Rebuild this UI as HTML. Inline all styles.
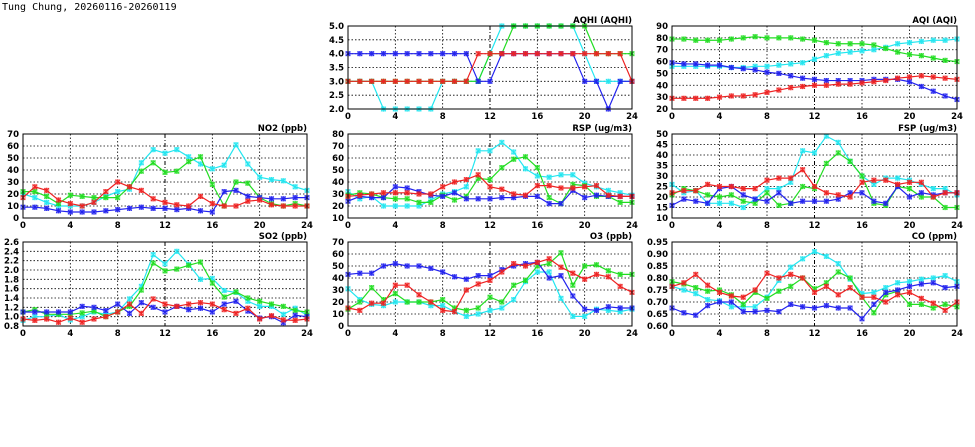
<!DOCTYPE html>
<html><head><meta charset="utf-8">
<style>
html,body{margin:0;padding:0;background:#fff;}
svg{display:block;}
text{font-family:"DejaVu Sans","Liberation Sans",sans-serif;font-weight:bold;font-size:8.5px;fill:#000;}
</style></head>
<body>
<svg id="chart" width="975" height="447" viewBox="0 0 975 447" xmlns="http://www.w3.org/2000/svg">
<text x="2" y="10" style="font-family:'DejaVu Sans Mono','Liberation Mono',monospace;font-size:10px;font-weight:normal">Tung Chung, 20260116-20260119</text>
</svg>
<script>
const hours = [0,1,2,3,4,5,6,7,8,9,10,11,12,13,14,15,16,17,18,19,20,21,22,23,24];
const xTicks = [0,4,8,12,16,20,24];

const aqhiCyan = [3,3,3,2,2,2,2,2,3,3,3,3,4,5,5,5,5,5,5,5,4,3,3,3,3];
const aqhiGreen = [3,3,3,3,3,3,3,3,3,3,3,3,4,4,5,5,5,5,5,5,5,4,4,4,4];
const aqhiBlue = [4,4,4,4,4,4,4,4,4,4,4,3,3,4,4,4,4,4,4,4,3,3,2,3,3];
const aqhiRed = [3,3,3,3,3,3,3,3,3,3,3,4,4,4,4,4,4,4,4,4,4,4,4,4,3];
const aqhiTicks = [2.0,2.5,3.0,3.5,4.0,4.5,5.0];

const aqiCyan = [56,56,56,56,56,55,55,56,56,57,58,59,62,65,67,68,69,70,72,75,76,77,78,78,79];
const aqiGreen = [79,79,78,78,78,79,80,81,80,80,80,79,78,76,75,75,75,74,71,68,66,65,63,61,60];
const aqiBlue = [59,58,58,57,57,55,54,53,51,50,48,46,45,44,44,44,44,45,45,45,43,39,35,31,28];
const aqiRed = [29,29,29,29,30,31,31,32,34,36,38,39,40,40,41,41,42,43,44,46,47,48,47,46,45];
const aqiTicks = [20,30,40,50,60,70,80,90];

const no2Cyan = [20,17,13,10,10,10,13,18,22,24,46,57,54,57,51,45,41,44,61,45,34,32,31,26,23];
const no2Green = [22,22,18,12,19,18,17,17,17,26,39,46,38,39,47,51,28,10,30,29,17,12,10,12,10];
const no2Blue = [9,9,8,6,5,5,5,6,7,8,9,8,8,7,8,6,5,22,23,18,17,16,16,17,17];
const no2Red = [17,26,23,15,12,10,13,22,30,26,23,16,13,11,10,18,12,10,10,14,15,11,10,10,10];
const no2Ticks = [0,10,20,30,40,50,60,70];

const rspCyan = [32,26,28,20,20,20,20,25,30,32,36,66,66,73,65,51,45,44,46,46,39,36,33,31,29];
const rspGreen = [29,31,30,27,26,26,23,23,29,25,28,43,42,52,59,61,52,27,22,38,37,28,28,23,23];
const rspBlue = [24,28,27,27,36,35,32,29,28,31,26,26,26,27,27,28,28,22,22,33,27,29,28,28,28];
const rspRed = [28,29,30,31,31,31,30,30,36,40,42,46,36,34,30,29,37,37,35,35,36,37,29,28,28];
const rspTicks = [10,20,30,40,50,60,70,80];

const fspCyan = [26,22,23,17,17,17,15,19,24,24,27,42,41,49,46,37,30,26,29,29,28,26,24,24,21];
const fspGreen = [21,24,23,21,20,21,18,17,22,16,17,25,24,36,41,37,30,17,16,25,24,20,20,15,15];
const fspBlue = [16,19,18,17,24,25,21,19,18,22,17,18,18,18,19,22,22,18,17,25,20,22,21,22,22];
const fspRed = [22,23,23,26,25,25,24,24,28,29,29,33,25,22,21,20,27,28,28,26,27,27,20,22,22];
const fspTicks = [10,15,20,25,30,35,40,45,50];

const so2Cyan = [0.92,1.0,1.0,1.05,0.93,1.0,1.1,1.05,1.1,1.38,1.65,2.33,2.13,2.4,2.12,1.8,1.82,1.56,1.52,1.33,1.22,1.22,1.05,1.18,1.03];
const so2Green = [1.1,1.15,1.05,1.05,1.05,1.08,1.12,1.0,1.1,1.22,1.57,2.15,1.98,2.02,2.1,2.17,1.72,1.42,1.53,1.4,1.33,1.27,1.22,1.13,1.1];
const so2Blue = [1.1,1.1,1.1,1.1,1.1,1.22,1.2,1.13,1.27,1.07,1.3,1.2,1.1,1.22,1.15,1.18,1.1,1.27,1.33,1.12,0.97,1.0,0.87,1.03,1.0];
const so2Red = [0.95,0.92,0.95,0.88,0.97,0.88,0.95,1.0,1.1,1.27,1.07,1.38,1.27,1.22,1.27,1.3,1.27,1.15,1.07,1.18,0.95,1.02,0.93,0.92,0.95];
const so2Ticks = [0.8,1.0,1.2,1.4,1.6,1.8,2.0,2.2,2.4,2.6];

const o3Cyan = [31,22,18,17,20,20,20,17,17,12,8,10,13,15,22,37,45,45,23,8,8,14,13,12,14];
const o3Green = [14,20,32,22,27,20,20,20,22,15,13,15,24,20,34,38,50,52,61,34,50,51,46,43,43];
const o3Blue = [43,44,44,50,52,50,50,48,45,41,39,42,42,47,50,52,53,40,42,25,14,13,16,15,15];
const o3Red = [15,13,19,19,34,34,26,20,13,12,30,35,38,45,52,50,53,56,49,44,39,43,41,33,28];
const o3Ticks = [0,10,20,30,40,50,60,70];

const coCyan = [0.765,0.75,0.735,0.71,0.705,0.68,0.68,0.68,0.72,0.79,0.845,0.88,0.91,0.89,0.86,0.795,0.735,0.74,0.76,0.78,0.785,0.795,0.8,0.81,0.785];
const coGreen = [0.785,0.775,0.76,0.745,0.75,0.73,0.69,0.74,0.715,0.745,0.765,0.8,0.755,0.78,0.825,0.8,0.72,0.655,0.73,0.745,0.69,0.69,0.675,0.69,0.68];
const coBlue = [0.675,0.655,0.645,0.685,0.7,0.7,0.66,0.66,0.665,0.66,0.69,0.68,0.675,0.685,0.675,0.675,0.63,0.69,0.74,0.75,0.765,0.775,0.78,0.76,0.765];
const coRed = [0.765,0.78,0.815,0.77,0.74,0.725,0.72,0.75,0.82,0.8,0.815,0.8,0.74,0.765,0.73,0.76,0.72,0.72,0.7,0.73,0.74,0.715,0.695,0.665,0.7];
const coTicks = [0.60,0.65,0.70,0.75,0.80,0.85,0.90,0.95];

const NS = "http://www.w3.org/2000/svg";
const svg = document.getElementById('chart');
const COLORS = {cyan:'#22e6f0', green:'#22dd22', blue:'#2222ee', red:'#ee2222'};

function mk(tag, attrs, parent){
  const e = document.createElementNS(NS, tag);
  for (const k in attrs) e.setAttribute(k, attrs[k]);
  (parent||svg).appendChild(e);
  return e;
}

function panel(name, title, box, yTicks, decimals, series){
  const g = mk('g', {});
  
  
  const [L,T,R,B] = box;
  const ymin = yTicks[0], ymax = yTicks[yTicks.length-1];
  const xs = h => L + (h - 0) / 24 * (R - L);
  const ys = v => B - (v - ymin) / (ymax - ymin) * (B - T);
  mk('rect', {x:L, y:T, width:R-L, height:B-T, fill:'#fff', stroke:'none'}, g);
  yTicks.forEach(t => {
    const y = ys(t);
    if (t !== ymin && t !== ymax) {
      const gl = mk('line', {x1:L, x2:R, y1:y, y2:y, stroke:'#000', 'stroke-width':0.8, 'stroke-dasharray':'1.5,2'}, g);
      
      
    }
    const tl = mk('text', {x:L-4, y:y+3, 'text-anchor':'end'}, g);
    tl.textContent = t.toFixed(decimals);
    
    
  });
  xTicks.forEach(t => {
    const x = xs(t);
    if (t !== 0 && t !== 24) {
      const gl = mk('line', {x1:x, x2:x, y1:T, y2:B, stroke:'#000', 'stroke-width': t===12?1:0.8, 'stroke-dasharray': t===12?'4,2,1,2':'1.5,2'}, g);
      
      
    }
    const tl = mk('text', {x:x, y:B+10, 'text-anchor':'middle'}, g);
    tl.textContent = t;
    
    
  });
  series.forEach(([cname, vals]) => {
    const col = COLORS[cname];
    const pts = vals.map((v,i) => xs(hours[i]) + ',' + ys(v)).join(' ');
    const pl = mk('polyline', {points:pts, fill:'none', stroke:col, 'stroke-width':1.2}, g);
    
    
    vals.forEach((v,i) => {
      const x = xs(hours[i]), y = ys(v);
      const m = mk('g', {}, g);
      
      
      mk('rect', {x:x-2.2, y:y-2.2, width:4.4, height:4.4, fill:col, 'fill-opacity':0.3, stroke:col, 'stroke-opacity':0.6, 'stroke-width':0.7}, m);
      mk('path', {d:`M${x-2.2},${y-2.2}L${x+2.2},${y+2.2}M${x+2.2},${y-2.2}L${x-2.2},${y+2.2}M${x},${y-2.6}L${x},${y+2.6}`, stroke:col, 'stroke-width':0.9}, m);
    });
  });
  const fr = mk('rect', {x:L, y:T, width:R-L, height:B-T, fill:'none', stroke:'#000', 'stroke-width':1}, g);
  
  
  const tt = mk('text', {x:R, y:T-3, 'text-anchor':'end'}, g);
  tt.textContent = title;
  
  
}

panel('aqhi', 'AQHI (AQHI)', [348,26,632,109], aqhiTicks, 1, [['cyan',aqhiCyan],['green',aqhiGreen],['blue',aqhiBlue],['red',aqhiRed]]);
panel('aqi', 'AQI (AQI)', [672,26,957,109], aqiTicks, 0, [['cyan',aqiCyan],['green',aqiGreen],['blue',aqiBlue],['red',aqiRed]]);
panel('no2', 'NO2 (ppb)', [23,134,307,218], no2Ticks, 0, [['cyan',no2Cyan],['green',no2Green],['blue',no2Blue],['red',no2Red]]);
panel('rsp', 'RSP (ug/m3)', [348,134,632,218], rspTicks, 0, [['cyan',rspCyan],['green',rspGreen],['blue',rspBlue],['red',rspRed]]);
panel('fsp', 'FSP (ug/m3)', [672,134,957,218], fspTicks, 0, [['cyan',fspCyan],['green',fspGreen],['blue',fspBlue],['red',fspRed]]);
panel('so2', 'SO2 (ppb)', [23,242,307,326], so2Ticks, 1, [['cyan',so2Cyan],['green',so2Green],['blue',so2Blue],['red',so2Red]]);
panel('o3', 'O3 (ppb)', [348,242,632,326], o3Ticks, 0, [['cyan',o3Cyan],['green',o3Green],['blue',o3Blue],['red',o3Red]]);
panel('co', 'CO (ppm)', [672,242,957,326], coTicks, 2, [['cyan',coCyan],['green',coGreen],['blue',coBlue],['red',coRed]]);
</script>
</body></html>
